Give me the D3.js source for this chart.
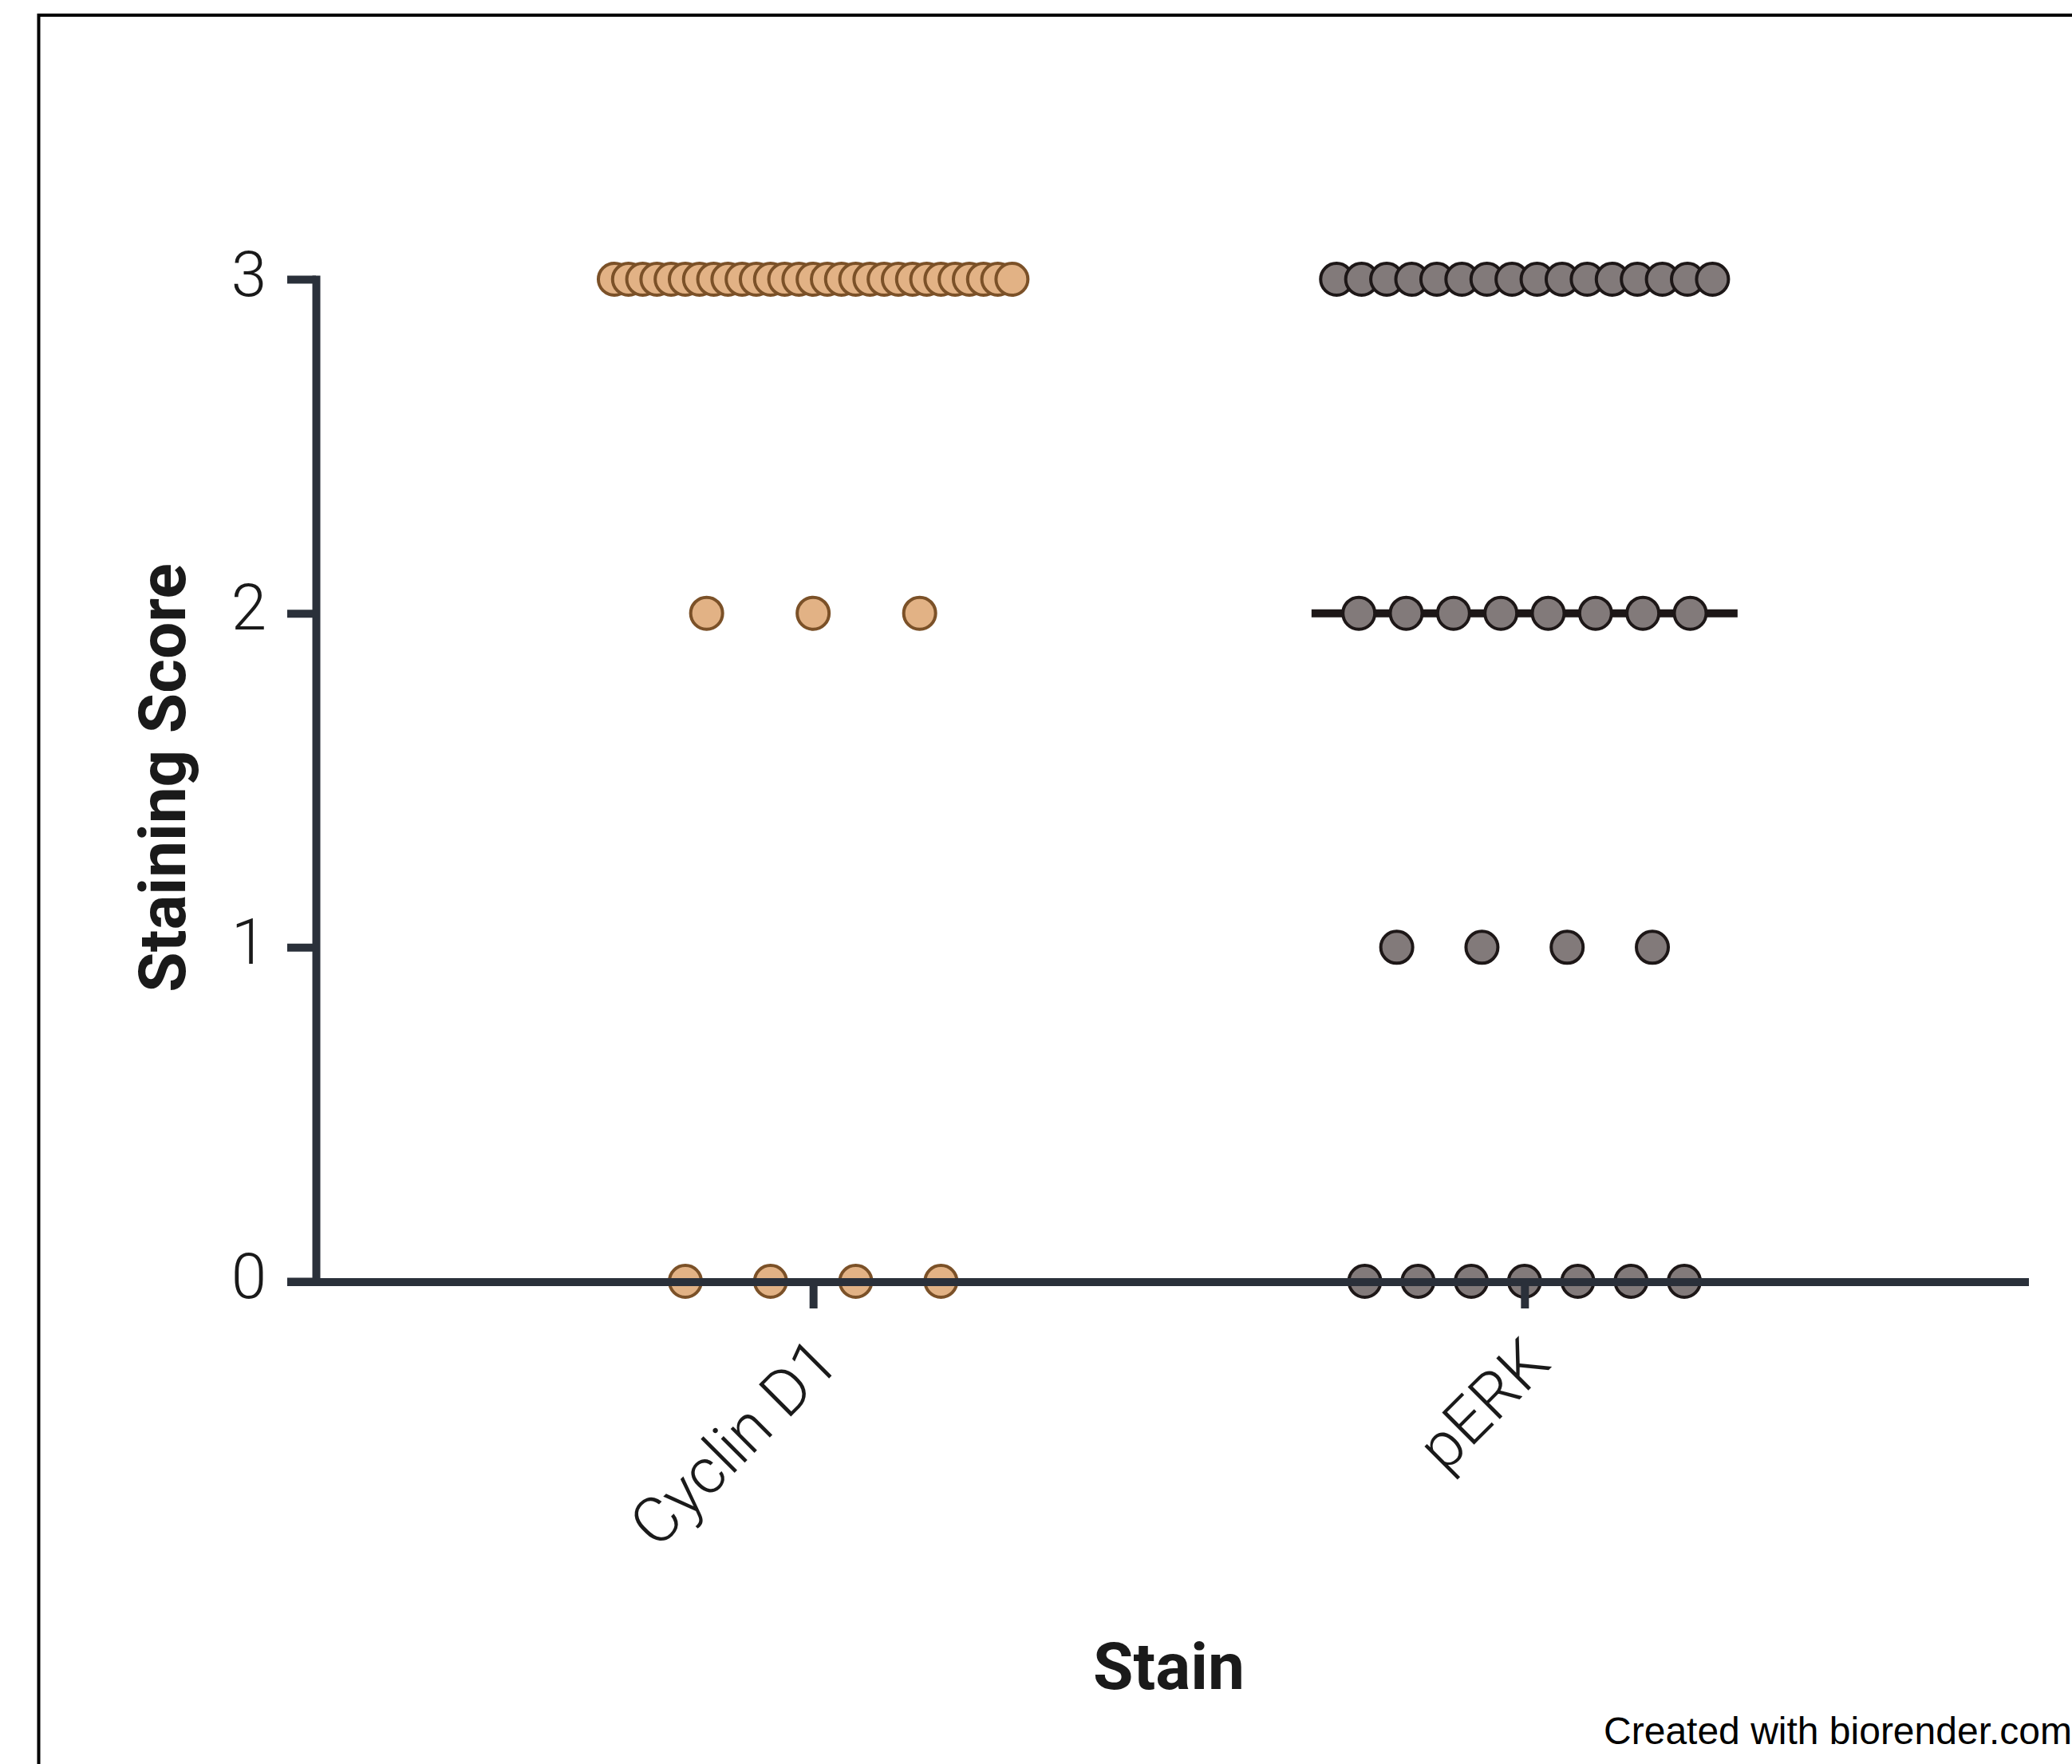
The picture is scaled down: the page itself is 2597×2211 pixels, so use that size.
<!DOCTYPE html>
<html>
<head>
<meta charset="utf-8">
<script src="https://cdn.jsdelivr.net/npm/d3@7"></script>
<style>
  body { margin: 0; background: #fff; }
  svg { display: block; }
</style>
</head>
<body>
<div id="chart"></div>
<script>

// Stains on the x axis
const stains = ["Cyclin D1", "pERK"];

// Number of samples at each staining score (index = score 0,1,2,3)
const cyclinD1Counts = [4, 0, 3, 29];
const pERKCounts = [7, 4, 8, 16];

// Median staining score of each stain
const medians = [3, 2];

const yTicks = [0, 1, 2, 3];

const colors = {
    "Cyclin D1": { fill: "#e2b285", stroke: "#7b5128" },
    "pERK": { fill: "#827a7a", stroke: "#1d1717" }
};

const width = 2597, height = 2211;
const axisColor = "#2a303a";

const svg = d3.select("#chart")
    .append("svg")
    .attr("width", width)
    .attr("height", height);

svg.append("rect")
    .attr("width", width)
    .attr("height", height)
    .attr("fill", "#fff");

// outer frame (right and bottom edges fall outside the picture)
svg.append("rect")
    .attr("x", 48.5)
    .attr("y", 19)
    .attr("width", 3000)
    .attr("height", 3000)
    .attr("fill", "none")
    .attr("stroke", "#000")
    .attr("stroke-width", 4);

const xScale = d3.scalePoint()
    .domain(stains)
    .range([395, 2535])
    .padding(0.7);

const yScale = d3.scaleLinear()
    .domain([0, 3])
    .range([1606, 350]);

const bandWidth = 534;   // horizontal room for the dots of one stain
const dotR = 20;

// expand counts into individual points
const countsByStain = { "Cyclin D1": cyclinD1Counts, "pERK": pERKCounts };
let points = [];
stains.forEach(stain => {
    const cx = xScale(stain);
    countsByStain[stain].forEach((n, score) => {
        if (n === 0) return;
        const row = d3.scalePoint()
            .domain(d3.range(n))
            .range([cx - bandWidth / 2, cx + bandWidth / 2])
            .padding(1);
        for (let i = 0; i < n; i++) {
            points.push({ stain: stain, score: score, x: row(i) });
        }
    });
});

// median lines (behind the dots)
svg.selectAll(".median")
    .data(stains)
    .enter()
    .append("line")
    .attr("class", "median")
    .attr("x1", d => xScale(d) - bandWidth / 2)
    .attr("x2", d => xScale(d) + bandWidth / 2)
    .attr("y1", (d, i) => yScale(medians[i]))
    .attr("y2", (d, i) => yScale(medians[i]))
    .attr("stroke", "#1d1717")
    .attr("stroke-width", 10);

svg.selectAll(".dot")
    .data(points)
    .enter()
    .append("circle")
    .attr("class", "dot")
    .attr("cx", d => d.x)
    .attr("cy", d => yScale(d.score))
    .attr("r", dotR)
    .attr("fill", d => colors[d.stain].fill)
    .attr("stroke", d => colors[d.stain].stroke)
    .attr("stroke-width", 4);

// Y axis
const yAxisX = 396;
const yAxis = svg.append("g")
    .attr("transform", `translate(${yAxisX},0)`)
    .call(d3.axisLeft(yScale).tickValues(yTicks).tickFormat(d3.format("d")).tickSize(36).tickSizeOuter(0).tickPadding(26));

yAxis.select(".domain")
    .attr("stroke", axisColor)
    .attr("stroke-width", 10)
    .attr("stroke-linecap", "square");

yAxis.selectAll(".tick line")
    .attr("stroke", axisColor)
    .attr("stroke-width", 10);

yAxis.selectAll(".tick text")
    .attr("dy", "0.25em")
    .style("font-family", "Roboto, 'Liberation Sans', sans-serif")
    .style("font-weight", 300)
    .style("font-size", "80px")
    .attr("fill", "#1a1a1a");

// X axis
const xAxisY = yScale(0) + 1;
svg.append("line")
    .attr("x1", 360)
    .attr("x2", 2543)
    .attr("y1", xAxisY)
    .attr("y2", xAxisY)
    .attr("stroke", axisColor)
    .attr("stroke-width", 10);

const xAxis = svg.append("g")
    .attr("transform", `translate(0,${xAxisY})`)
    .call(d3.axisBottom(xScale).tickSize(33).tickSizeOuter(0));

xAxis.select(".domain").remove();

xAxis.selectAll(".tick line")
    .attr("stroke", axisColor)
    .attr("stroke-width", 10);

// Rotate the labels, ending just under the tick
xAxis.selectAll(".tick text")
    .attr("x", 0)
    .attr("y", 0)
    .attr("dy", 0)
    .attr("transform", "translate(35,105) rotate(-45)")
    .style("text-anchor", "end")
    .style("font-family", "Roboto, 'Liberation Sans', sans-serif")
    .style("font-weight", 300)
    .style("font-size", "80px")
    .attr("fill", "#1a1a1a");

// axis titles
svg.append("text")
    .attr("transform", `translate(232,975) rotate(-90)`)
    .attr("text-anchor", "middle")
    .style("font-family", "Roboto, sans-serif")
    .style("font-weight", 700)
    .style("font-size", "82px")
    .attr("fill", "#1a1a1a")
    .text("Staining Score");

svg.append("text")
    .attr("x", (xScale(stains[0]) + xScale(stains[1])) / 2)
    .attr("y", 2117)
    .attr("text-anchor", "middle")
    .style("font-family", "Roboto, sans-serif")
    .style("font-weight", 700)
    .style("font-size", "82px")
    .attr("fill", "#1a1a1a")
    .text("Stain");

svg.append("text")
    .attr("x", 2597)
    .attr("y", 2186)
    .attr("text-anchor", "end")
    .style("font-family", "'Liberation Sans', Arial, sans-serif")
    .style("font-size", "48px")
    .attr("fill", "#000")
    .text("Created with biorender.com");

</script>
</body>
</html>
